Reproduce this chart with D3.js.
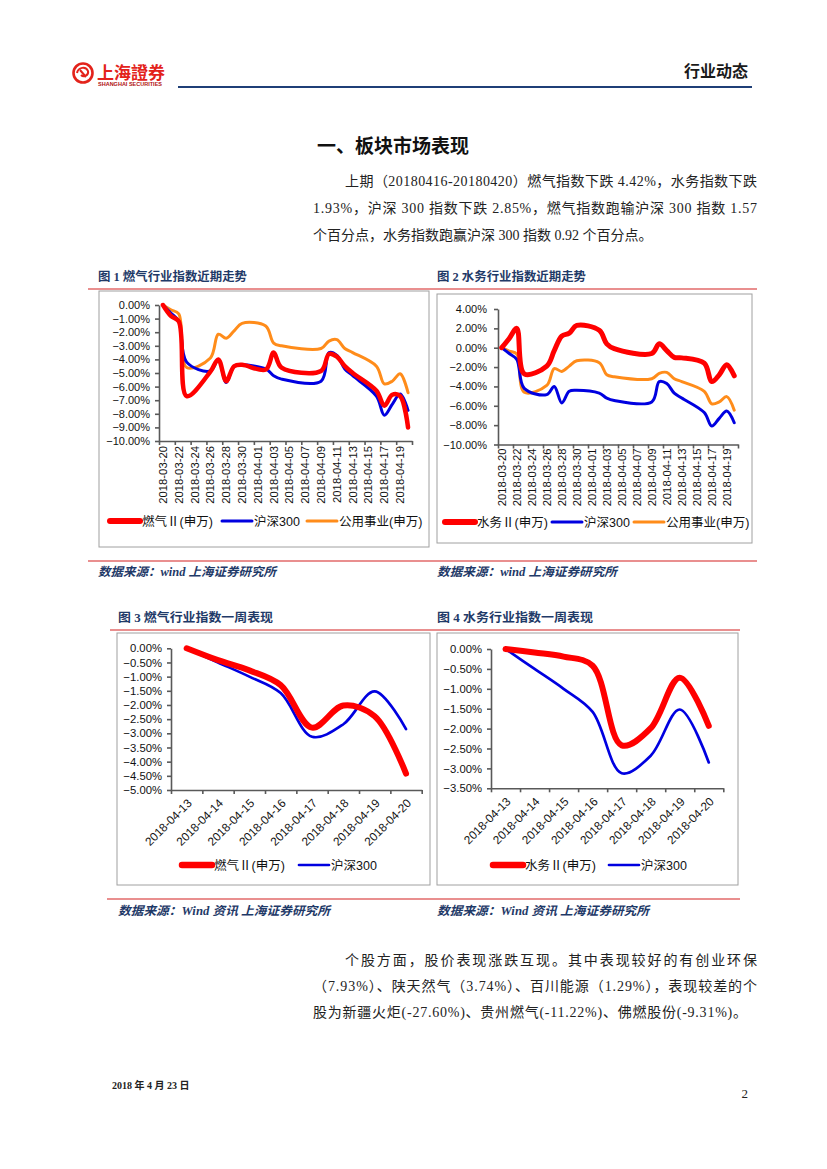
<!DOCTYPE html>
<html><head><meta charset="utf-8">
<script src="https://cdn.jsdelivr.net/npm/d3@7"></script>
<style>body{margin:0;background:#fff} svg{display:block}</style>
</head><body>
<svg id="page" width="827" height="1169"></svg>
<script>
// ---------------- DATA ----------------
const tradeDates = ["2018-03-20","2018-03-21","2018-03-22","2018-03-23","2018-03-26","2018-03-27","2018-03-28","2018-03-29","2018-03-30","2018-04-02","2018-04-03","2018-04-04","2018-04-09","2018-04-10","2018-04-11","2018-04-12","2018-04-13","2018-04-16","2018-04-17","2018-04-18","2018-04-19","2018-04-20"];
const gasIndex   = [0,-0.8,-1.2,-6.7,-4.9,-4.0,-5.6,-4.5,-4.4,-4.75,-3.5,-4.6,-4.85,-3.6,-3.8,-4.5,-5.0,-6.3,-7.4,-6.6,-6.7,-9.0];
const waterIndex = [0,0.95,2.0,-2.7,-1.9,-0.3,1.2,1.5,2.3,1.8,0.4,-0.1,-0.6,0.4,-0.3,-1.0,-1.05,-1.6,-3.5,-2.8,-1.75,-2.9];
const hs300      = [0,-0.6,-1.2,-4.2,-4.85,-4.0,-5.7,-4.5,-4.4,-4.7,-5.2,-5.45,-5.6,-3.5,-3.7,-4.7,-5.2,-6.7,-8.1,-7.3,-6.55,-7.75];
const utilities  = [0,-0.35,-0.65,-4.6,-3.9,-2.15,-2.45,-1.9,-1.35,-1.55,-2.8,-3.0,-3.2,-2.65,-2.55,-3.2,-3.5,-4.5,-5.8,-5.6,-5.05,-6.45];
const xLabels1 = ["2018-03-20","2018-03-22","2018-03-24","2018-03-26","2018-03-28","2018-03-30","2018-04-01","2018-04-03","2018-04-05","2018-04-07","2018-04-09","2018-04-11","2018-04-13","2018-04-15","2018-04-17","2018-04-19"];
const yTicks1 = [0,-1,-2,-3,-4,-5,-6,-7,-8,-9,-10];
const yTicks2 = [4,2,0,-2,-4,-6,-8,-10];

const weekDates = ["2018-04-13","2018-04-14","2018-04-15","2018-04-16","2018-04-17","2018-04-18","2018-04-19","2018-04-20"];
const gasWeek   = [0,-0.42,-0.78,-1.3,-2.8,-2.02,-2.4,-4.42];
const hs300Week = [0,-0.5,-1.0,-1.58,-3.12,-2.68,-1.52,-2.85];
const waterWeek = [0,-0.09,-0.19,-0.42,-2.42,-1.99,-0.72,-1.93];
const yTicks3 = [0,-0.5,-1,-1.5,-2,-2.5,-3,-3.5,-4,-4.5,-5];
const yTicks4 = [0,-0.5,-1,-1.5,-2,-2.5,-3,-3.5];

const nameGas = "燃气Ⅱ(申万)", nameWater = "水务Ⅱ(申万)", nameHs = "沪深300", nameUtil = "公用事业(申万)";

// ---------------- STYLE ----------------
const RED = "#FF0000", BLUE = "#0000E0", ORANGE = "#FF8C1A", NAVY = "#1F3A68", AXIS = "#595959";
const SANS = '"Liberation Sans", Arial, "Noto Sans CJK SC", sans-serif';
const SERIF = '"Liberation Serif", "Noto Sans CJK SC", serif';
const CJK = '"Noto Sans CJK SC", sans-serif';

const svg = d3.select("#page");
const parse = d3.utcParse("%Y-%m-%d");
const pct = v => d3.format(".2f")(v) + "%";

// ---------------- HEADER ----------------
const logo = svg.append("g");
logo.append("circle").attr("cx",83).attr("cy",73).attr("r",9.5).attr("fill","none").attr("stroke","#E3231B").attr("stroke-width",2.6);
logo.append("path").attr("d","M77,73 C78,67 86,66 88,71 C89,75 84,78 81,75 M80,70 L86,77").attr("fill","none").attr("stroke","#E3231B").attr("stroke-width",2);
logo.append("text").attr("x",97).attr("y",79).attr("font-family",'"Noto Sans CJK TC", sans-serif').attr("font-weight","bold").attr("font-size",17).attr("fill","#E3231B").attr("textLength",68).attr("lengthAdjust","spacingAndGlyphs").text("上海證券");
logo.append("text").attr("x",98).attr("y",86).attr("font-family",SANS).attr("font-weight","bold").attr("font-size",4.5).attr("fill","#B01010").attr("textLength",64).attr("lengthAdjust","spacingAndGlyphs").text("SHANGHAI SECURITIES");
svg.append("line").attr("x1",178).attr("x2",752).attr("y1",87).attr("y2",87).attr("stroke","#1F3F77").attr("stroke-width",2);
svg.append("text").attr("x",748).attr("y",77).attr("text-anchor","end").attr("font-family",CJK).attr("font-weight","bold").attr("font-size",16).attr("fill","#1a1a1a").text("行业动态");

svg.append("text").attr("x",393).attr("y",153).attr("text-anchor","middle").attr("font-family",CJK).attr("font-weight","bold").attr("font-size",19).attr("fill","#111").text("一、板块市场表现");

function para(lines){
  lines.forEach(l=>{
    const t = svg.append("text").attr("x",l.x).attr("y",l.y).attr("font-family",SERIF).attr("font-size",14).attr("fill","#222").text(l.t);
    if(l.w) t.attr("textLength",l.w).attr("lengthAdjust","spacing");
  });
}
para([
  {x:345,y:186,w:412,t:"上期（20180416-20180420）燃气指数下跌 4.42%，水务指数下跌"},
  {x:313,y:213,w:444,t:"1.93%，沪深 300 指数下跌 2.85%，燃气指数跑输沪深 300 指数 1.57"},
  {x:313,y:240,t:"个百分点，水务指数跑赢沪深 300 指数 0.92 个百分点。"},
  {x:345,y:965,w:412,t:"个股方面，股价表现涨跌互现。其中表现较好的有创业环保"},
  {x:313,y:991,w:444,t:"（7.93%）、陕天然气（3.74%）、百川能源（1.29%），表现较差的个"},
  {x:313,y:1017,w:434,t:"股为新疆火炬(-27.60%)、贵州燃气(-11.22%)、佛燃股份(-9.31%)。"}
]);

// red rules
[[88,757,289],[88,757,561],[110,740,630],[107,740,899]].forEach(r=>{
  svg.append("line").attr("x1",r[0]).attr("x2",r[1]).attr("y1",r[2]).attr("y2",r[2]).attr("stroke","#D42020").attr("stroke-width",1.2);
});

function caption(x,y,w,t,italic){
  svg.append("text").attr("x",x).attr("y",y).attr("font-family",SERIF).attr("font-weight","bold")
    .attr("font-style",italic?"italic":"normal").attr("font-size",12).attr("fill",NAVY)
    .attr("textLength",w).attr("lengthAdjust","spacingAndGlyphs").text(t);
}
caption(98,281,149,"图 1 燃气行业指数近期走势");
caption(437,281,149,"图 2 水务行业指数近期走势");
caption(98,576,178,"数据来源：wind 上海证券研究所",true);
caption(437,576,180,"数据来源：wind 上海证券研究所",true);
caption(118,622,155,"图 3 燃气行业指数一周表现");
caption(437,622,156,"图 4 水务行业指数一周表现");
caption(118,915,212,"数据来源：Wind 资讯 上海证券研究所",true);
caption(437,915,212,"数据来源：Wind 资讯 上海证券研究所",true);

svg.append("text").attr("x",112).attr("y",1089).attr("font-family",SERIF).attr("font-weight","bold").attr("font-size",10).attr("fill","#222").text("2018 年 4 月 23 日");
svg.append("text").attr("x",748).attr("y",1098).attr("text-anchor","end").attr("font-family",SERIF).attr("font-size",13).attr("fill","#222").text("2");

// ---------------- CHART HELPERS ----------------
function frame(x0,y0,x1,y1){
  svg.append("rect").attr("x",x0).attr("y",y0).attr("width",x1-x0).attr("height",y1-y0).attr("fill","#fff").attr("stroke","#A0A0A0").attr("stroke-width",1);
}
function styleAxis(g,fs){
  g.selectAll("path,line").attr("stroke",AXIS).attr("stroke-width",1.6);
  g.selectAll("text").attr("font-family",SANS).attr("font-size",fs||11).attr("fill","#111");
}
function drawLine(x,y,dates,vals,color,w){
  const line = d3.line().x((d,i)=>x(dates[i])).y(d=>y(d)).curve(d3.curveCatmullRom.alpha(0.5));
  svg.append("path").datum(vals).attr("d",line).attr("fill","none").attr("stroke",color).attr("stroke-width",w).attr("stroke-linejoin","round").attr("stroke-linecap","round");
}
function legend(items,y){
  items.forEach(it=>{
    svg.append("line").attr("x1",it.x).attr("x2",it.x+30).attr("y1",y).attr("y2",y).attr("stroke",it.c).attr("stroke-width",it.w).attr("stroke-linecap","round");
    svg.append("text").attr("x",it.x+32).attr("y",y+4.5).attr("font-family",SANS).attr("font-size",12.5).attr("fill","#111").text(it.t);
  });
}

// ---------------- CHART 1 & 2 (date axis) ----------------
function trendChart(o){
  frame(...o.frame);
  const x = d3.scaleUtc().domain([new Date(Date.UTC(2018,2,19,12)), new Date(Date.UTC(2018,3,20,12))]).range([o.x0,o.x1]);
  const y = d3.scaleLinear().domain([o.yTicks[0], o.yTicks[o.yTicks.length-1]]).range([o.yTop,o.yBot]);
  const ya = svg.append("g").attr("transform",`translate(${o.x0},0)`)
    .call(d3.axisLeft(y).tickValues(o.yTicks).tickFormat(pct).tickSize(4).tickSizeOuter(0).tickPadding(o.pad));
  styleAxis(ya,11);
  const bounds = d3.range(0,17).map(k=>d3.utcDay.offset(x.domain()[0],2*k));
  const xa = svg.append("g").attr("transform",`translate(0,${o.yBot})`)
    .call(d3.axisBottom(x).tickValues(bounds).tickFormat("").tickSize(4).tickSizeOuter(0));
  styleAxis(xa);
  xLabels1.forEach(d=>{
    const px = x(parse(d));
    svg.append("text").attr("transform",`translate(${px},${o.yBot+o.lblGap}) rotate(-90)`)
      .attr("text-anchor","end").attr("dy","0.35em").attr("font-family",SANS).attr("font-size",11.3).attr("fill","#111").text(d);
  });
  const dts = tradeDates.map(parse);
  o.series.forEach(s=>drawLine(x,y,dts,s.v,s.c,s.w));
  legend(o.legend,o.legY);
}

trendChart({frame:[99,291,429,547], x0:159, x1:412, yTop:305, yBot:441, pad:5, lblGap:5, yTicks:yTicks1,
  series:[{v:utilities,c:ORANGE,w:3},{v:hs300,c:BLUE,w:3},{v:gasIndex,c:RED,w:4.5}],
  legend:[{x:110,c:RED,w:6,t:nameGas},{x:222,c:BLUE,w:3,t:nameHs},{x:307,c:ORANGE,w:3,t:nameUtil}], legY:521});

trendChart({frame:[437,294,752,543], x0:498, x1:738, yTop:309, yBot:444.5, pad:7, lblGap:4, yTicks:yTicks2,
  series:[{v:utilities,c:ORANGE,w:3},{v:hs300,c:BLUE,w:3},{v:waterIndex,c:RED,w:5}],
  legend:[{x:445,c:RED,w:6,t:nameWater},{x:552,c:BLUE,w:3,t:nameHs},{x:634,c:ORANGE,w:3,t:nameUtil}], legY:522});

// ---------------- CHART 3 & 4 (category axis) ----------------
function weekChart(o){
  frame(...o.frame);
  const band = d3.scaleBand().domain(weekDates).range([o.x0,o.x1]);
  const x = d => band(d) + band.bandwidth()/2;
  const y = d3.scaleLinear().domain([o.yTicks[0], o.yTicks[o.yTicks.length-1]]).range([o.yTop,o.yBot]);
  const ya = svg.append("g").attr("transform",`translate(${o.x0},0)`)
    .call(d3.axisLeft(y).tickValues(o.yTicks).tickFormat(pct).tickSize(4).tickSizeOuter(0).tickPadding(5));
  styleAxis(ya,11.3);
  const bounds = weekDates.map(d=>band(d)).concat([o.x1]);
  const xa = svg.append("g").attr("transform",`translate(0,${o.yBot})`)
    .call(d3.axisBottom(d3.scaleLinear().domain([o.x0,o.x1]).range([o.x0,o.x1])).tickValues(bounds).tickFormat("").tickSize(4).tickSizeOuter(0));
  styleAxis(xa);
  weekDates.forEach(d=>{
    svg.append("text").attr("transform",`translate(${x(d)+3},${o.yBot+11}) rotate(-45)`)
      .attr("text-anchor","end").attr("dy","0.35em").attr("font-family",SANS).attr("font-size",11.8).attr("fill","#111").text(d);
  });
  o.series.forEach(s=>drawLine(x,y,weekDates,s.v,s.c,s.w));
  legend(o.legend,o.legY);
}

weekChart({frame:[117,633,430,885], x0:171, x1:421.7, yTop:648.3, yBot:790, yTicks:yTicks3,
  series:[{v:hs300Week,c:BLUE,w:2.7},{v:gasWeek,c:RED,w:6}],
  legend:[{x:182,c:RED,w:6.5,t:nameGas},{x:299,c:BLUE,w:2.7,t:nameHs}], legY:865});

weekChart({frame:[437,633,738,885], x0:491, x1:723.3, yTop:649, yBot:788.3, yTicks:yTicks4,
  series:[{v:hs300Week,c:BLUE,w:2.7},{v:waterWeek,c:RED,w:6}],
  legend:[{x:493,c:RED,w:6.5,t:nameWater},{x:609,c:BLUE,w:2.7,t:nameHs}], legY:865});
</script>
</body></html>
